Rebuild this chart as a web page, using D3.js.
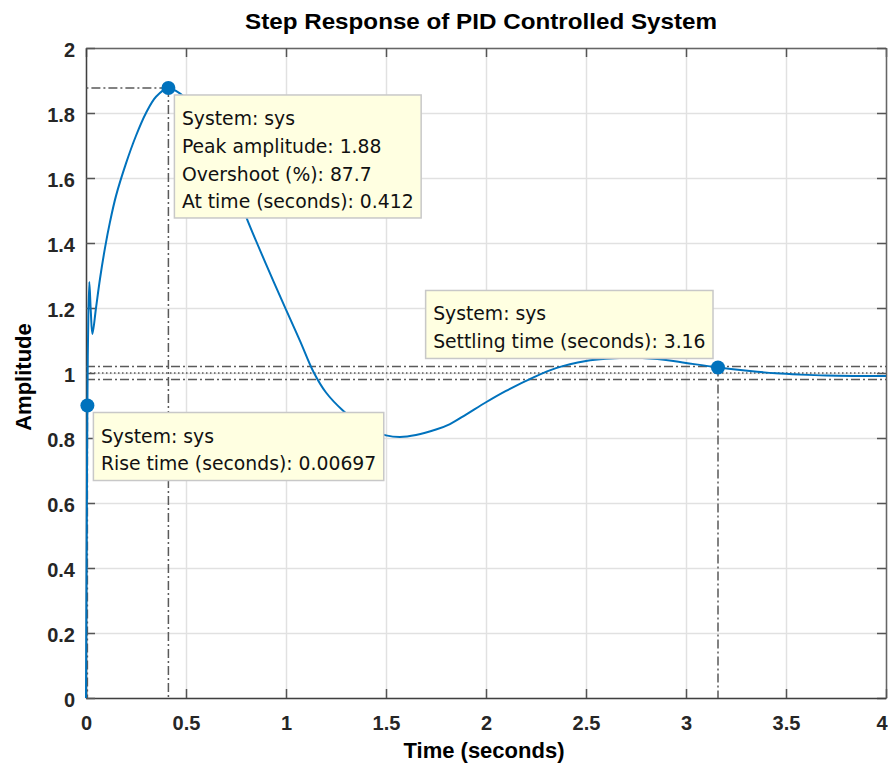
<!DOCTYPE html>
<html>
<head>
<meta charset="utf-8">
<script src="https://cdn.jsdelivr.net/npm/d3@7/dist/d3.min.js"></script>
<style>
  html, body { margin: 0; padding: 0; background: #fff; }
  svg { display: block; }
  .tick text { font-family: "Liberation Sans", Arial, sans-serif; font-weight: bold; font-size: 20px; fill: #262626; }
  .tip text { font-family: "DejaVu Sans", sans-serif; font-size: 18.8px; fill: #111; }
</style>
</head>
<body>
<svg id="chart" width="888" height="765"></svg>
<script>
// step response
const timeVals = [0, 0.002, 0.004, 0.00697, 0.010, 0.0165, 0.024, 0.032, 0.05, 0.07, 0.095,
  0.12, 0.15, 0.2, 0.25, 0.3, 0.35, 0.412, 0.45, 0.5, 0.55, 0.6, 0.65, 0.7, 0.75, 0.81,
  0.9, 1.0, 1.07, 1.137, 1.2, 1.287, 1.35, 1.42, 1.5, 1.57, 1.65, 1.75, 1.82, 1.9, 2.0,
  2.1, 2.235, 2.35, 2.5, 2.6, 2.75, 2.9, 3.0, 3.16, 3.32, 3.45, 3.57, 3.7, 3.85, 4.0];
const ampVals = [0, 0.3, 0.55, 0.9, 1.1, 1.28, 1.19, 1.12, 1.2, 1.29, 1.385,
  1.465, 1.545, 1.645, 1.73, 1.8, 1.85, 1.877, 1.868, 1.845, 1.81, 1.765, 1.705, 1.635, 1.56, 1.466,
  1.335, 1.195, 1.099, 1.004, 0.94, 0.883, 0.852, 0.826, 0.808, 0.803, 0.809, 0.826, 0.843, 0.872, 0.91,
  0.945, 0.986, 1.015, 1.037, 1.044, 1.047, 1.04, 1.031, 1.017, 1.006, 0.999, 0.995, 0.992, 0.991, 0.991];

const xTicks = [0, 0.5, 1, 1.5, 2, 2.5, 3, 3.5, 4];
const xTickLabels = ["0", "0.5", "1", "1.5", "2", "2.5", "3", "3.5", "4"];
const yTicks = [0, 0.2, 0.4, 0.6, 0.8, 1, 1.2, 1.4, 1.6, 1.8, 2];
const yTickLabels = ["0", "0.2", "0.4", "0.6", "0.8", "1", "1.2", "1.4", "1.6", "1.8", "2"];

// characteristic points
const peakPoint = { t: 0.412, a: 1.877 };
const risePoint = { t: 0.00697, a: 0.9 };
const settlePoint = { t: 3.16, a: 1.017 };
const finalValue = 1;
const settleBand = [1.02, 0.98];

const peakLines = ["System: sys", "Peak amplitude: 1.88", "Overshoot (%): 87.7", "At time (seconds): 0.412"];
const settleLines = ["System: sys", "Settling time (seconds): 3.16"];
const riseLines = ["System: sys", "Rise time (seconds): 0.00697"];

const svg = d3.select("#chart");
const plotLeft = 86, plotRight = 886, plotTop = 48, plotBottom = 698;

const x = d3.scaleLinear().domain([0, 4]).range([plotLeft, plotRight]);
const y = d3.scaleLinear().domain([0, 2]).range([plotBottom, plotTop]);

// grid
svg.append("g")
  .attr("transform", `translate(0,${plotBottom})`)
  .call(d3.axisBottom(x).tickValues(xTicks).tickSize(-(plotBottom - plotTop)).tickFormat(""))
  .call(g => g.select(".domain").remove())
  .call(g => g.selectAll("line").attr("stroke", "#e1e1e1").attr("stroke-width", 1.5));
svg.append("g")
  .attr("transform", `translate(${plotLeft},0)`)
  .call(d3.axisLeft(y).tickValues(yTicks).tickSize(-(plotRight - plotLeft)).tickFormat(""))
  .call(g => g.select(".domain").remove())
  .call(g => g.selectAll("line").attr("stroke", "#e1e1e1").attr("stroke-width", 1.5));

// axes, ticks pointing inward
function styleAxis(g, col) {
  g.select(".domain").attr("stroke", col).attr("stroke-width", 1.5);
  g.selectAll(".tick line").attr("stroke", "#555").attr("stroke-width", 1.5);
}
svg.append("g")
  .attr("transform", `translate(0,${plotTop})`)
  .call(d3.axisTop(x).tickValues(xTicks).tickSizeInner(-9).tickSizeOuter(0).tickFormat(""))
  .call(g => styleAxis(g, "#666"));
svg.append("g")
  .attr("transform", `translate(${plotRight},0)`)
  .call(d3.axisRight(y).tickValues(yTicks).tickSizeInner(-9).tickSizeOuter(0).tickFormat(""))
  .call(g => styleAxis(g, "#666"));
svg.append("g")
  .attr("transform", `translate(0,${plotBottom})`)
  .call(d3.axisBottom(x).tickValues(xTicks).tickSizeInner(-9).tickSizeOuter(0).tickPadding(18)
    .tickFormat((d, i) => xTickLabels[i]))
  .call(g => styleAxis(g, "#404040"))
  // last label sits flush with the right edge
  .call(g => g.selectAll(".tick text").filter(d => d === 4).attr("text-anchor", "end").attr("dx", 1));
svg.append("g")
  .attr("transform", `translate(${plotLeft},0)`)
  .call(d3.axisLeft(y).tickValues(yTicks).tickSizeInner(-9).tickSizeOuter(0).tickPadding(11)
    .tickFormat((d, i) => yTickLabels[i]))
  .call(g => styleAxis(g, "#404040"))
  .call(g => g.selectAll(".tick text").attr("dy", "0.42em"));

// settling band and final value
const dashDot = "9,3,2,3";
settleBand.forEach(v => {
  svg.append("line")
    .attr("x1", x(0)).attr("x2", x(4)).attr("y1", y(v)).attr("y2", y(v))
    .attr("stroke", "#5a5a5a").attr("stroke-width", 1.5).attr("stroke-dasharray", dashDot);
});
svg.append("line")
  .attr("x1", x(0)).attr("x2", x(4)).attr("y1", y(finalValue)).attr("y2", y(finalValue))
  .attr("stroke", "#5a5a5a").attr("stroke-width", 1.5).attr("stroke-dasharray", "1.5,2.5");

// guide lines for the characteristic points
const guides = [
  [peakPoint.t, peakPoint.a, 0, peakPoint.a],
  [peakPoint.t, peakPoint.a, peakPoint.t, 0],
  [settlePoint.t, settlePoint.a, settlePoint.t, 0],
  [risePoint.t, risePoint.a, risePoint.t, 0]
];
svg.selectAll(".guide").data(guides).join("line")
  .attr("class", "guide")
  .attr("x1", d => x(d[0])).attr("y1", d => y(d[1]))
  .attr("x2", d => x(d[2])).attr("y2", d => y(d[3]))
  .attr("stroke", "#5a5a5a").attr("stroke-width", 1.5).attr("stroke-dasharray", dashDot);

// response curve
const pts = timeVals.map((t, i) => [t, ampVals[i]]);
svg.append("path")
  .datum(pts)
  .attr("fill", "none")
  .attr("stroke", "#0072bd")
  .attr("stroke-width", 2)
  .attr("d", d3.line().x(d => x(d[0])).y(d => y(d[1])).curve(d3.curveCatmullRom.alpha(0.5)));

// markers
svg.selectAll(".mark").data([peakPoint, risePoint, settlePoint]).join("circle")
  .attr("class", "mark")
  .attr("cx", d => x(d.t)).attr("cy", d => y(d.a))
  .attr("r", 7)
  .attr("fill", "#0072bd");

// datatips
function tip(lines, px, py, anchor) {
  const g = svg.append("g").attr("class", "tip");
  const rect = g.append("rect");
  const texts = g.selectAll("text").data(lines).join("text")
    .attr("x", 7.5)
    .attr("y", (d, i) => 30 + i * 27.8)
    .text(d => d);
  const w = d3.max(texts.nodes(), n => n.getComputedTextLength()) + 15;
  const h = lines.length * 27.5 + 13;
  rect.attr("width", w).attr("height", h)
    .attr("fill", "#ffffe1").attr("stroke", "#c8c8c8").attr("stroke-width", 1.5);
  const ox = anchor === "upleft" ? px - 5 - w : px + 6;
  const oy = anchor === "upleft" ? py - 9 - h : py + 7;
  g.attr("transform", `translate(${ox},${oy})`);
}
tip(peakLines, x(peakPoint.t), y(peakPoint.a), "downright");
tip(settleLines, x(settlePoint.t), y(settlePoint.a), "upleft");
tip(riseLines, x(risePoint.t), y(risePoint.a), "downright");

// title and axis labels
svg.append("text")
  .attr("x", 481).attr("y", 29)
  .attr("text-anchor", "middle")
  .attr("font-family", "Liberation Sans, Arial, sans-serif")
  .attr("font-weight", "bold").attr("font-size", 22)
  .attr("textLength", 472).attr("lengthAdjust", "spacingAndGlyphs")
  .attr("fill", "#000")
  .text("Step Response of PID Controlled System");
svg.append("text")
  .attr("x", 484).attr("y", 758)
  .attr("text-anchor", "middle")
  .attr("font-family", "Liberation Sans, Arial, sans-serif")
  .attr("font-weight", "bold").attr("font-size", 22)
  .attr("fill", "#000")
  .text("Time (seconds)");
svg.append("text")
  .attr("transform", "translate(31,377) rotate(-90)")
  .attr("text-anchor", "middle")
  .attr("font-family", "Liberation Sans, Arial, sans-serif")
  .attr("font-weight", "bold").attr("font-size", 22)
  .attr("fill", "#000")
  .text("Amplitude");
</script>
</body>
</html>
